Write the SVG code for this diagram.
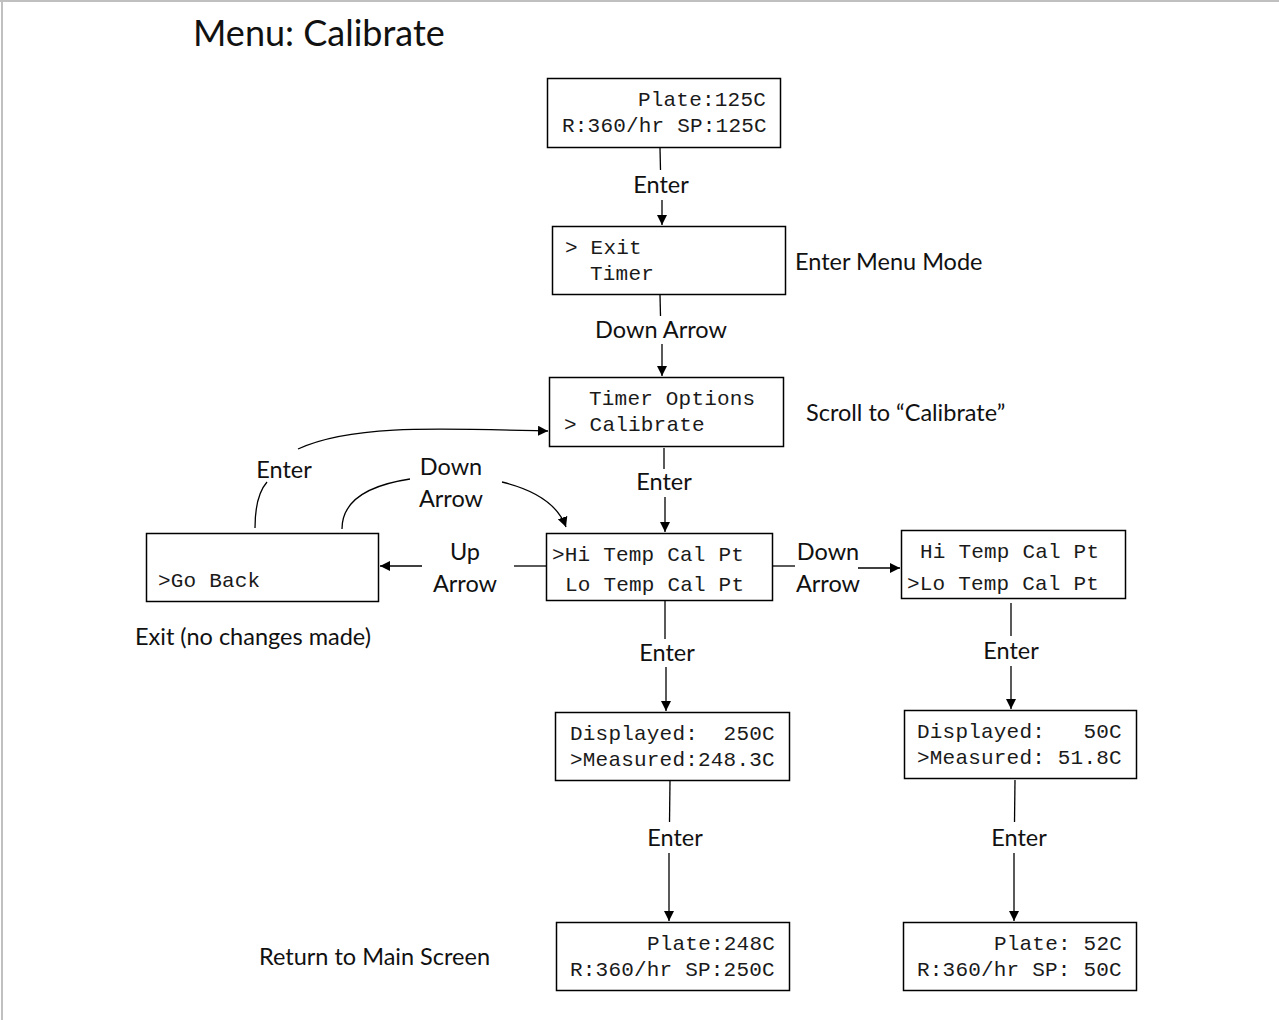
<svg xmlns="http://www.w3.org/2000/svg" width="1279" height="1020" viewBox="0 0 1279 1020">
  <defs>
    <marker id="arr" viewBox="0 0 10 10" refX="10" refY="5" markerWidth="10" markerHeight="10" markerUnits="userSpaceOnUse" orient="auto">
      <path d="M0,0 L10,5 L0,10 z" fill="#000"/>
    </marker>
    <style>
      .box { fill: #fff; stroke: #000; stroke-width: 1.5; }
      .mono { font-family: "Liberation Mono", "Courier New", monospace; font-size: 21px; letter-spacing: 0.2px; fill: #1a1a1a; }
      .end { text-anchor: end; }
      .lbl { font-family: "Lato", "Open Sans", sans-serif; font-size: 23.5px; fill: #111; }
      .mid { text-anchor: middle; }
      .ln { fill: none; stroke: #000; stroke-width: 1.3; }
      .arw { fill: none; stroke: #000; stroke-width: 1.3; marker-end: url(#arr); }
    </style>
  </defs>
  <rect width="1279" height="1020" fill="#fff"/>
  <!-- frame -->
  <line x1="0" y1="1" x2="1279" y2="1" stroke="#c0c0c0" stroke-width="2"/>
  <line x1="2" y1="0" x2="2" y2="1020" stroke="#c0c0c0" stroke-width="2"/>

  <text x="193" y="46" font-family="Lato, 'Open Sans', sans-serif" font-size="36" fill="#111">Menu: Calibrate</text>

  <g id="connectors">
    <line class="ln" x1="660" y1="148" x2="660.5" y2="170"/>
    <line class="arw" x1="662" y1="200" x2="662" y2="225"/>
    <line class="ln" x1="660" y1="295" x2="660.5" y2="316"/>
    <line class="arw" x1="662" y1="344" x2="662" y2="376"/>
    <line class="ln" x1="664" y1="448" x2="664" y2="469"/>
    <line class="arw" x1="665" y1="497" x2="665" y2="532"/>
    <line class="ln" x1="665" y1="601" x2="665" y2="639"/>
    <line class="arw" x1="666" y1="667" x2="666" y2="711"/>
    <line class="ln" x1="670" y1="781" x2="669.5" y2="822"/>
    <line class="arw" x1="669" y1="853" x2="669" y2="921"/>
    <line class="ln" x1="1011" y1="603" x2="1011" y2="636"/>
    <line class="arw" x1="1011" y1="666" x2="1011" y2="709"/>
    <line class="ln" x1="1015" y1="780" x2="1014.5" y2="822"/>
    <line class="arw" x1="1014" y1="853" x2="1014" y2="921"/>
    <line class="ln" x1="773" y1="566" x2="795" y2="566"/>
    <line class="arw" x1="858" y1="568" x2="900" y2="568"/>
    <line class="ln" x1="546" y1="566" x2="514" y2="566"/>
    <line class="arw" x1="422" y1="566" x2="380" y2="566"/>
    <path class="ln" d="M255,528 C255,505 260,490 267,482"/>
    <path class="arw" d="M298,449 C350,425 430,428 548,431"/>
    <path class="ln" d="M342,529 C342,500 370,485 410,479"/>
    <path class="arw" d="M502,482 C535,490 558,505 566,527"/>
  </g>

  <g id="edge-labels">
    <text class="lbl mid" x="661" y="193">Enter</text>
    <text class="lbl mid" x="661" y="338">Down Arrow</text>
    <text class="lbl mid" x="664" y="490">Enter</text>
    <text class="lbl mid" x="667" y="661">Enter</text>
    <text class="lbl mid" x="675" y="846">Enter</text>
    <text class="lbl mid" x="1011" y="659">Enter</text>
    <text class="lbl mid" x="1019" y="846">Enter</text>
    <text class="lbl mid" x="828" y="560">Down</text>
    <text class="lbl mid" x="828" y="592">Arrow</text>
    <text class="lbl mid" x="465" y="560">Up</text>
    <text class="lbl mid" x="465" y="592">Arrow</text>
    <text class="lbl mid" x="284" y="478">Enter</text>
    <text class="lbl mid" x="451" y="475">Down</text>
    <text class="lbl mid" x="451" y="507">Arrow</text>
  </g>

  <g id="notes">
    <text class="lbl" x="795" y="270">Enter Menu Mode</text>
    <text class="lbl" x="806" y="421">Scroll to “Calibrate”</text>
    <text class="lbl" x="135" y="645">Exit (no changes made)</text>
    <text class="lbl" x="259" y="965">Return to Main Screen</text>
  </g>

  <g id="main-screen">
    <rect class="box" x="547.5" y="78.5" width="233" height="69"/>
    <text class="mono end" x="766" y="106">Plate:125C</text>
    <text class="mono" x="562" y="132">R:360/hr SP:125C</text>
  </g>

  <g id="menu-exit">
    <rect class="box" x="552.5" y="226.5" width="233" height="68"/>
    <text class="mono" x="565" y="254" xml:space="preserve">&gt; Exit</text>
    <text class="mono" x="590" y="280">Timer</text>
  </g>

  <g id="menu-calibrate">
    <rect class="box" x="549.5" y="377.5" width="234" height="69"/>
    <text class="mono" x="589" y="405">Timer Options</text>
    <text class="mono" x="564" y="431" xml:space="preserve">&gt; Calibrate</text>
  </g>

  <g id="go-back">
    <rect class="box" x="146.5" y="533.5" width="232" height="68"/>
    <text class="mono" x="158" y="587">&gt;Go Back</text>
  </g>

  <g id="cal-hi">
    <rect class="box" x="546.5" y="533.5" width="226" height="67"/>
    <text class="mono" x="552" y="561">&gt;Hi Temp Cal Pt</text>
    <text class="mono" x="565" y="591">Lo Temp Cal Pt</text>
  </g>

  <g id="cal-lo">
    <rect class="box" x="901.5" y="530.5" width="224" height="68"/>
    <text class="mono" x="920" y="558">Hi Temp Cal Pt</text>
    <text class="mono" x="907" y="590">&gt;Lo Temp Cal Pt</text>
  </g>

  <g id="adjust-hi">
    <rect class="box" x="555.5" y="712.5" width="234" height="68"/>
    <text class="mono" x="570" y="740" xml:space="preserve">Displayed:  250C</text>
    <text class="mono" x="570" y="766">&gt;Measured:248.3C</text>
  </g>

  <g id="adjust-lo">
    <rect class="box" x="904.5" y="710.5" width="232" height="68"/>
    <text class="mono" x="917" y="738" xml:space="preserve">Displayed:   50C</text>
    <text class="mono" x="917" y="764" xml:space="preserve">&gt;Measured: 51.8C</text>
  </g>

  <g id="result-hi">
    <rect class="box" x="556.5" y="922.5" width="233" height="68"/>
    <text class="mono end" x="775" y="950">Plate:248C</text>
    <text class="mono" x="570" y="976">R:360/hr SP:250C</text>
  </g>

  <g id="result-lo">
    <rect class="box" x="903.5" y="922.5" width="233" height="68"/>
    <text class="mono end" x="1122" y="950" xml:space="preserve">Plate: 52C</text>
    <text class="mono" x="917" y="976" xml:space="preserve">R:360/hr SP: 50C</text>
  </g>
</svg>
